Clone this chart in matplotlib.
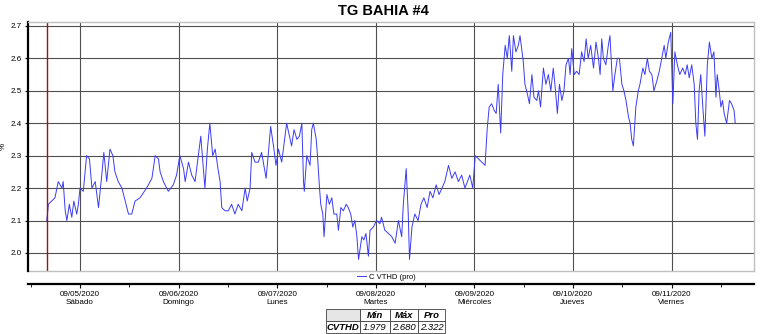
import matplotlib
matplotlib.use("Agg")
import matplotlib.pyplot as plt
import matplotlib.dates as mdates
import pandas as pd
import numpy as np

plt.rcParams['font.family'] = ['Liberation Sans', 'DejaVu Sans']

title = "TG BAHIA #4"
series_name = "C VTHD (pro)"
start_time = "2020-09-04 15:54"
hours = [0.0, 0.1, 0.4, 1.2, 2.0, 2.8, 3.7, 4.0, 4.5, 4.9, 5.5, 6.1, 6.6, 7.3, 7.7, 8.1, 8.9, 9.7, 10.4,
         11.0, 11.8, 12.6, 13.4, 13.9, 14.6, 15.4, 16.1, 16.6, 17.4, 18.3, 19.1, 19.9, 20.7, 21.5, 22.7,
         24.3, 25.6, 26.4, 27.2, 27.6, 28.4, 29.2, 29.6, 30.8, 31.6, 32.4, 33.3, 33.7, 34.5, 35.3, 36.1,
         36.9, 37.5, 38.0, 38.5, 39.1, 39.7, 40.4, 41.0, 41.8, 42.2, 42.6, 43.4, 44.2, 45.0, 45.8, 46.6,
         47.5, 48.3, 48.8, 49.5, 49.9, 50.7, 51.5, 52.3, 53.4, 53.9, 54.5, 55.2, 55.8, 56.4, 57.2, 58.4,
         59.6, 60.2, 60.9, 61.5, 62.1, 62.5, 62.7, 63.3, 64.1, 64.5, 64.9, 65.6, 65.9, 66.4, 66.7, 67.2,
         67.5, 68.2, 68.8, 69.4, 69.9, 70.6, 71.0, 71.6, 72.2, 72.9, 73.4, 74.0, 74.5, 75.0, 75.5, 75.9,
         76.7, 77.2, 77.7, 78.3, 78.7, 79.5, 80.3, 81.1, 81.5, 82.3, 83.2, 84.0, 84.8, 85.6, 86.4, 86.8,
         87.5, 88.0, 88.3, 88.9, 89.6, 90.4, 91.1, 91.8, 92.6, 93.3, 94.0, 94.8, 95.5, 96.2, 96.9, 97.8,
         98.6, 99.4, 100.2, 101.0, 101.8, 103.0, 103.7, 104.3, 105.1, 105.9, 106.7, 107.2, 107.7, 108.3,
         108.9, 109.4, 109.9, 110.5, 111.0, 111.6, 112.1, 112.6, 113.2, 113.6, 114.2, 114.8, 115.2, 116.0,
         116.4, 117.0, 117.5, 118.1, 118.6, 119.3, 119.7, 120.2, 120.9, 121.5, 122.1, 122.7, 123.3, 123.7,
         124.3, 124.8, 125.4, 125.9, 126.4, 127.0, 127.4, 127.8, 128.4, 129.0, 129.6, 130.2, 130.8, 131.3,
         131.8, 132.4, 133.1, 133.7, 134.3, 134.7, 135.1, 135.5, 136.1, 136.7, 137.1, 137.8, 138.3, 138.9,
         139.4, 140.0, 140.5, 141.0, 141.6, 142.0, 142.4, 142.8, 143.4, 144.0, 144.4, 145.1, 145.6, 146.2,
         146.7, 147.3, 147.8, 148.5, 149.1, 149.7, 150.3, 150.7, 151.3, 151.9, 152.4, 152.9, 153.5, 154.1,
         154.8, 155.4, 155.9, 156.4, 157.0, 157.6, 158.0, 158.4, 158.8, 159.2, 159.7, 160.2, 160.8, 161.3,
         161.9, 162.4, 162.9, 163.2, 163.7, 164.1, 164.5, 164.9, 165.5, 166.2, 166.7, 167.3, 167.6]
values = [2.10, 2.11, 2.15, 2.16, 2.17, 2.22, 2.20, 2.22, 2.13, 2.10, 2.15, 2.11, 2.16, 2.12, 2.15, 2.20, 2.19, 2.30, 2.29,
          2.20, 2.22, 2.14, 2.24, 2.31, 2.22, 2.32, 2.30, 2.25, 2.22, 2.20, 2.16, 2.12, 2.12, 2.16, 2.17,
          2.20, 2.23, 2.30, 2.29, 2.25, 2.22, 2.20, 2.19, 2.21, 2.24, 2.30, 2.26, 2.22, 2.28, 2.24, 2.22,
          2.30, 2.36, 2.28, 2.20, 2.32, 2.40, 2.30, 2.32, 2.25, 2.22, 2.14, 2.13, 2.13, 2.15, 2.12, 2.15,
          2.13, 2.20, 2.16, 2.20, 2.31, 2.28, 2.28, 2.31, 2.23, 2.30, 2.39, 2.33, 2.27, 2.32, 2.28, 2.40,
          2.33, 2.38, 2.35, 2.36, 2.40, 2.22, 2.19, 2.30, 2.27, 2.38, 2.40, 2.35, 2.30, 2.20, 2.15, 2.12,
          2.05, 2.18, 2.15, 2.17, 2.12, 2.12, 2.07, 2.14, 2.13, 2.15, 2.14, 2.12, 2.08, 2.10, 2.05, 1.98,
          2.05, 2.04, 2.06, 1.99, 2.07, 2.08, 2.10, 2.09, 2.11, 2.07, 2.06, 2.05, 2.03, 2.10, 2.05, 2.15,
          2.26, 2.12, 1.98, 2.08, 2.12, 2.10, 2.15, 2.17, 2.14, 2.19, 2.17, 2.21, 2.18, 2.20, 2.22, 2.27,
          2.23, 2.25, 2.22, 2.24, 2.20, 2.24, 2.20, 2.30, 2.29, 2.28, 2.27, 2.38, 2.45, 2.46,
          2.44, 2.43, 2.52, 2.37, 2.55, 2.64, 2.60, 2.67, 2.56, 2.67, 2.62, 2.64, 2.67, 2.59,
          2.52, 2.49, 2.46, 2.55, 2.48, 2.47, 2.50, 2.45, 2.57, 2.52, 2.55, 2.50, 2.57, 2.52,
          2.43, 2.52, 2.47, 2.50, 2.58, 2.60, 2.55, 2.63, 2.55, 2.56, 2.55, 2.62, 2.59, 2.66,
          2.60, 2.64, 2.57, 2.65, 2.60, 2.55, 2.66, 2.60, 2.58, 2.64, 2.67, 2.50, 2.55, 2.60,
          2.60, 2.52, 2.50, 2.47, 2.42, 2.40, 2.35, 2.33, 2.45, 2.50, 2.52, 2.57, 2.55, 2.60,
          2.56, 2.55, 2.50, 2.53, 2.56, 2.60, 2.64, 2.60, 2.65, 2.68, 2.46, 2.62, 2.58, 2.55,
          2.57, 2.55, 2.58, 2.54, 2.58, 2.52, 2.40, 2.35, 2.50, 2.55, 2.45, 2.36, 2.58, 2.65,
          2.60, 2.62, 2.48, 2.55, 2.50, 2.45, 2.47, 2.43, 2.40, 2.47, 2.46, 2.44, 2.40]

day_dates = ["09/05/2020", "09/06/2020", "09/07/2020", "09/08/2020", "09/09/2020", "09/10/2020", "09/11/2020"]
day_names = ["Sábado", "Domingo", "Lunes", "Martes", "Miércoles", "Jueves", "Viernes"]
yticks = [2.0, 2.1, 2.2, 2.3, 2.4, 2.5, 2.6, 2.7]

table_cols = ["Min", "Máx", "Pro"]
table_row = "CVTHD"
table_vals = ["1.979", "2.680", "2.322"]

times = pd.Timestamp(start_time) + pd.to_timedelta(hours, unit="h")
day_ticks = pd.to_datetime(day_dates, format="%m/%d/%Y")

fig = plt.figure(figsize=(7.62, 3.34), dpi=100)
W, H = 762, 334
ax = fig.add_axes([28 / W, 1 - 271 / H, (754 - 28) / W, (271 - 22) / H])

line, = ax.plot(times, values, color="#3b3bf5", lw=0.7, label=series_name)
ax.axvline(times[0], color="#a01010", lw=1.0)
ax.plot([0, 1], [0, 0], transform=ax.transAxes, color="#c0c0c0", lw=1.0, clip_on=False)

x_left = day_ticks[0] - pd.Timedelta(hours=12.66)
x_right = day_ticks[0] + pd.Timedelta(hours=164.06)
ax.set_xlim(x_left, x_right)
ax.set_ylim(1.9444, 2.712)

ax.set_yticks(yticks)
ax.set_yticklabels([f"{v:.1f}" for v in yticks])
ax.set_xticks(day_ticks)
ax.set_xticklabels([f"{d}\n{n}" for d, n in zip(day_dates, day_names)], linespacing=1.2)
ax.xaxis.set_minor_locator(mdates.HourLocator(byhour=[12]))
ax.tick_params(axis="x", which="major", length=3, width=0.8, pad=2, labelsize=5.8)
ax.tick_params(axis="x", which="minor", length=2, width=0.6)
ax.tick_params(axis="y", length=2.5, width=0.8, pad=2, labelsize=5.8)

ax.grid(True, which="major", color="#505050", lw=0.8)
ax.set_axisbelow(True)

for s in ["top", "right"]:
    ax.spines[s].set_color("#c0c0c0")
    ax.spines[s].set_linewidth(1.0)
ax.spines["left"].set_color("black")
ax.spines["left"].set_linewidth(1.6)
ax.spines["bottom"].set_position(("outward", 9.4))
ax.spines["bottom"].set_color("black")
ax.spines["bottom"].set_linewidth(1.6)

ax.set_ylabel("%", fontsize=5.8, labelpad=3)
fig.text(383 / W, 1 - 11 / H, title, ha="center", va="center", fontsize=10.5, fontweight="bold")

fig.legend(handles=[line], labels=[series_name], loc="center", bbox_to_anchor=(386 / W, 1 - 277 / H),
           frameon=False, fontsize=5.5, handlelength=1.2, handletextpad=0.4, borderpad=0)

tax = fig.add_axes([326 / W, 1 - 333 / H, (445 - 326) / W, (333 - 309) / H])
tax.axis("off")
cell_text = [["", *table_cols], [table_row, *table_vals]]
tbl = tax.table(cellText=cell_text, bbox=[0, 0, 1, 1], cellLoc="center",
                colWidths=[34, 30, 28, 27])
tbl.auto_set_font_size(False)
for (r, c), cell in tbl.get_celld().items():
    cell.set_linewidth(0.6)
    cell.set_edgecolor("#404040")
    txt = cell.get_text()
    txt.set_fontsize(6.8)
    txt.set_style("italic")
    if r == 0 or c == 0:
        txt.set_fontweight("bold")
    if r == 0 and c == 0:
        cell.set_facecolor("#e6e6e6")

fig.savefig("out.png", dpi=100)
